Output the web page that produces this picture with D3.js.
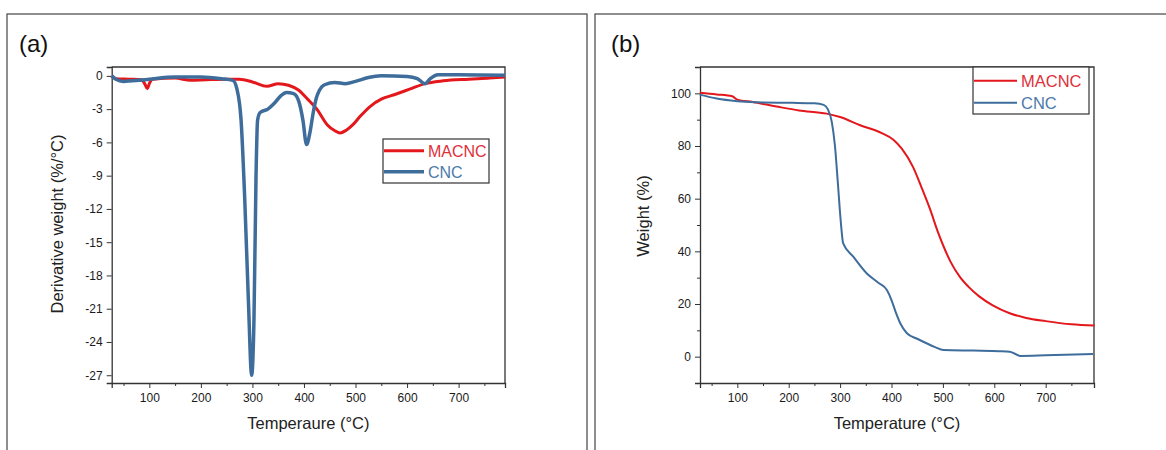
<!DOCTYPE html>
<html>
<head>
<meta charset="utf-8">
<script src="https://cdn.jsdelivr.net/npm/d3@7"></script>
<style>
  body { margin: 0; background: #fff; }
  svg text { font-family: "Liberation Sans", Arial, sans-serif; }
</style>
</head>
<body>
<svg id="chart" width="1166" height="450"></svg>
<script>
// DTG data, panel (a): [temperature, derivative weight]
const dtgMacnc = [[27,0],[35,-0.25],[60,-0.3],[85,-0.35],[92,-0.8],[96,-1.15],[100,-0.7],[106,-0.3],[150,-0.2],[180,-0.4],[210,-0.35],[250,-0.3],[275,-0.3],[300,-0.55],[328,-0.94],[350,-0.7],[370,-0.85],[390,-1.3],[405,-2.0],[425,-3.0],[445,-4.4],[460,-4.95],[470,-5.15],[482,-4.9],[495,-4.4],[510,-3.6],[530,-2.7],[550,-2.1],[575,-1.7],[605,-1.2],[635,-0.7],[670,-0.45],[720,-0.3],[760,-0.2],[790,-0.1]];
const dtgCnc = [[27,0],[35,-0.3],[50,-0.5],[80,-0.4],[100,-0.3],[150,-0.1],[200,-0.1],[240,-0.25],[262,-0.4],[270,-1.2],[278,-4],[285,-11],[292,-20],[298.5,-27],[303,-22],[307,-9],[310,-4],[315,-3.3],[330,-3.0],[342,-2.5],[355,-1.8],[366,-1.5],[380,-1.6],[390,-2.3],[398,-4],[405,-6.2],[412,-5.0],[418,-3.3],[424,-2.0],[430,-1.3],[440,-0.8],[460,-0.6],[480,-0.7],[500,-0.5],[525,-0.15],[550,0],[600,-0.05],[620,-0.25],[635,-0.7],[645,-0.25],[660,0.1],[700,0.1],[790,0.05]];

// TGA data, panel (b): [temperature, weight %]
const tgaMacnc = [[27,100.2],[60,99.6],[90,98.9],[100,97.6],[130,96.7],[176,95],[220,93.5],[274,92.3],[300,91],[339,87.9],[380,85],[403,82.5],[420,79],[442,72],[460,63.5],[475,56],[490,47.5],[500,42.5],[515,36],[533,30.3],[550,26.5],[570,23],[597,19.5],[630,16.5],[662,14.7],[700,13.5],[750,12.3],[795,11.8]];
const tgaCnc = [[27,99.5],[60,98],[100,97],[150,96.5],[208,96.4],[250,96.2],[268,95.6],[276,94],[284,89],[290,80],[296,65],[301,52],[306,43],[326,37.9],[352,31.6],[375,28],[391,25.3],[400,21.5],[408,17],[417,12.7],[430,8.9],[450,6.8],[468,5.1],[485,3.6],[501,2.5],[560,2.3],[610,2.1],[630,1.9],[640,1.1],[650,0.3],[700,0.5],[792,1.0]];

const seriesNames = ["MACNC", "CNC"];
const lineColors = ["#e3171c", "#3e6d9c"];
const textColors = ["#e0303a", "#4d7aaa"];

const dtgYTicks = [0, -3, -6, -9, -12, -15, -18, -21, -24, -27];
const tgaYTicks = [0, 20, 40, 60, 80, 100];
const tempTicks = [100, 200, 300, 400, 500, 600, 700];

const svg = d3.select("#chart");

// panel frames
svg.append("rect").attr("x", 7).attr("y", 14).attr("width", 580).attr("height", 460)
  .attr("fill", "none").attr("stroke", "#444").attr("stroke-width", 1.2);
svg.append("rect").attr("x", 595).attr("y", 14).attr("width", 600).attr("height", 460)
  .attr("fill", "none").attr("stroke", "#444").attr("stroke-width", 1.2);

function drawPanel(opt) {
  const g = svg.append("g");
  const x = d3.scaleLinear().domain(opt.xDomain).range([opt.left, opt.right]);
  const y = d3.scaleLinear().domain(opt.yDomain).range([opt.bottom, opt.top]);

  // x axis with minor ticks
  const xMinor = d3.range(50, opt.xDomain[1], 100);
  g.append("g").attr("transform", `translate(0,${opt.bottom})`)
    .call(d3.axisBottom(x).tickValues(xMinor).tickSize(3).tickFormat(""))
    .call(a => a.select(".domain").remove());
  const xa = g.append("g").attr("transform", `translate(0,${opt.bottom})`)
    .call(d3.axisBottom(x).tickValues(tempTicks).tickSize(5).tickPadding(5).tickFormat(d3.format("d")));

  // y axis
  if (opt.yMinor) {
    g.append("g").attr("transform", `translate(${opt.left},0)`)
      .call(d3.axisLeft(y).tickValues(opt.yMinor).tickSize(3).tickFormat(""))
      .call(a => a.select(".domain").remove());
  }
  const ya = g.append("g").attr("transform", `translate(${opt.left},0)`)
    .call(d3.axisLeft(y).tickValues(opt.yTicks).tickSize(5).tickPadding(4).tickFormat(d => d));

  [xa, ya].forEach(a => {
    a.selectAll("text").attr("font-size", 12).attr("fill", "#1a1a1a");
  });
  g.selectAll(".tick line").attr("stroke", "#333");
  g.selectAll(".domain").attr("stroke", "#333").attr("stroke-width", 1.3);

  // top and right border
  g.append("path")
    .attr("d", `M${opt.left},${opt.top}H${opt.right}V${opt.bottom}`)
    .attr("fill", "none").attr("stroke", "#333").attr("stroke-width", 1.3);

  const line = d3.line().x(d => x(d[0])).y(d => y(d[1])).curve(d3.curveMonotoneX);
  opt.series.forEach((s, i) => {
    g.append("path").datum(s).attr("d", line)
      .attr("fill", "none").attr("stroke", lineColors[i])
      .attr("stroke-width", opt.lineWidth[i]).attr("stroke-linejoin", "round");
  });

  // legend
  const L = opt.legend;
  const lg = g.append("g");
  lg.append("rect").attr("x", L.x).attr("y", L.y).attr("width", L.w).attr("height", L.h)
    .attr("fill", "#fff").attr("stroke", "#333").attr("stroke-width", 1.2);
  seriesNames.forEach((name, i) => {
    const ly = L.y + L.rowTop + i * L.rowGap;
    lg.append("line").attr("x1", L.x + 1).attr("x2", L.x + L.lineLen)
      .attr("y1", ly).attr("y2", ly)
      .attr("stroke", lineColors[i]).attr("stroke-width", opt.lineWidth[i]);
    lg.append("text").attr("x", L.x + L.lineLen + 4).attr("y", ly + 6)
      .attr("font-size", L.font).attr("fill", textColors[i]).text(name);
  });

  // axis titles
  g.append("text").attr("x", (opt.left + opt.right) / 2).attr("y", 429)
    .attr("text-anchor", "middle").attr("font-size", 16.5).attr("fill", "#222")
    .text(opt.xTitle);
  g.append("text")
    .attr("transform", `translate(${opt.yTitleX},${opt.yTitleY}) rotate(-90)`)
    .attr("text-anchor", "middle").attr("font-size", 16.5).attr("fill", "#222")
    .text(opt.yTitle);

  // panel label
  g.append("text").attr("x", opt.labelX).attr("y", 52)
    .attr("font-size", 24).attr("fill", "#111").text(opt.label);
}

drawPanel({
  left: 111.7, right: 505, top: 67, bottom: 383,
  xDomain: [27, 790], yDomain: [-27.7, 0.8],
  yTicks: dtgYTicks, yMinor: null,
  series: [dtgMacnc, dtgCnc], lineWidth: [3, 3.5],
  legend: { x: 383, y: 139, w: 106, h: 44, rowTop: 11.7, rowGap: 21, lineLen: 41, font: 16 },
  xTitle: "Temperaure (°C)", yTitle: "Derivative weight (%/°C)",
  yTitleX: 63, yTitleY: 224, label: "(a)", labelX: 19
});

drawPanel({
  left: 700, right: 1094, top: 67, bottom: 383,
  xDomain: [27.4, 794], yDomain: [-10, 110],
  yTicks: tgaYTicks, yMinor: d3.range(-10, 111, 20),
  series: [tgaMacnc, tgaCnc], lineWidth: [2, 2],
  legend: { x: 973, y: 67, w: 116, h: 47, rowTop: 13.7, rowGap: 22, lineLen: 44, font: 16.5 },
  xTitle: "Temperature (°C)", yTitle: "Weight (%)",
  yTitleX: 649, yTitleY: 216, label: "(b)", labelX: 611
});
</script>
</body>
</html>
